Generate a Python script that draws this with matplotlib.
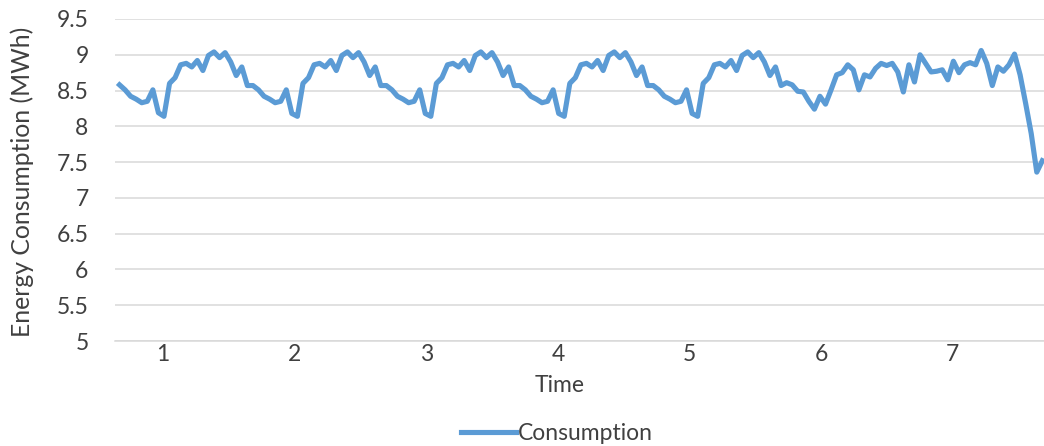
import matplotlib
matplotlib.use("Agg")
import matplotlib.pyplot as plt
import numpy as np

# hourly energy use over one week, one list per day (24 readings each)
day1 = [8.58, 8.51, 8.42, 8.38, 8.33, 8.35, 8.51, 8.19, 8.14, 8.60, 8.68, 8.86,
        8.88, 8.83, 8.92, 8.78, 8.99, 9.04, 8.96, 9.03, 8.90, 8.71, 8.83, 8.57]
day2 = [8.57, 8.51, 8.42, 8.38, 8.33, 8.35, 8.51, 8.18, 8.14, 8.60, 8.68, 8.86,
        8.88, 8.83, 8.92, 8.78, 8.99, 9.04, 8.96, 9.03, 8.90, 8.71, 8.83, 8.57]
day3 = [8.57, 8.51, 8.42, 8.38, 8.33, 8.35, 8.51, 8.18, 8.14, 8.60, 8.68, 8.86,
        8.88, 8.83, 8.92, 8.78, 8.99, 9.04, 8.96, 9.03, 8.90, 8.71, 8.83, 8.57]
day4 = [8.57, 8.51, 8.42, 8.38, 8.33, 8.35, 8.51, 8.18, 8.14, 8.60, 8.68, 8.86,
        8.88, 8.83, 8.92, 8.78, 8.99, 9.04, 8.96, 9.03, 8.90, 8.71, 8.83, 8.57]
day5 = [8.57, 8.51, 8.42, 8.38, 8.33, 8.35, 8.51, 8.18, 8.14, 8.60, 8.68, 8.86,
        8.88, 8.83, 8.92, 8.78, 8.99, 9.04, 8.96, 9.03, 8.90, 8.71, 8.83, 8.57]
day6 = [8.61, 8.58, 8.49, 8.48, 8.35, 8.24, 8.42, 8.31, 8.51, 8.72, 8.75, 8.86,
        8.79, 8.51, 8.72, 8.69, 8.81, 8.88, 8.85, 8.88, 8.76, 8.48, 8.86, 8.62]
day7 = [9.00, 8.88, 8.76, 8.77, 8.79, 8.65, 8.91, 8.75, 8.86, 8.89, 8.86, 9.06,
        8.88, 8.57, 8.83, 8.77, 8.86, 9.01, 8.72, 8.32, 7.90, 7.36, 7.52]

day_labels = ["1", "2", "3", "4", "5", "6", "7"]
# hour index where each day number sits on the time axis
label_pos = [7.8, 31.5, 55.2, 78.9, 102.6, 126.2, 149.9]

consumption = day1 + day2 + day3 + day4 + day5 + day6 + day7
hours = np.arange(len(consumption))

plt.rcParams['font.family'] = ['Lato', 'DejaVu Sans']
text_col = '#404040'
fs = 16.5

W, H = 1044, 446
fig = plt.figure(figsize=(W / 100, H / 100), dpi=100)
ax = fig.add_axes([115 / W, (H - 341) / H, (W - 115) / W, (341 - 19) / H])

ax.plot(hours, consumption, color='#5B9BD5', lw=3.7, solid_joinstyle='round',
        label='Consumption', zorder=3)

ax.set_ylim(5, 9.5)
ax.set_yticks(np.arange(5, 9.51, 0.5))
ax.set_yticklabels(['5', '5.5', '6', '6.5', '7', '7.5', '8', '8.5', '9', '9.5'])
ax.set_xlim(-0.81, 166.3)
ax.set_xticks(label_pos)
ax.set_xticklabels(day_labels)

ax.grid(axis='y', color='#D9D9D9', lw=1.1)
ax.set_axisbelow(True)
for s in ['left', 'right', 'top']:
    ax.spines[s].set_visible(False)
ax.spines['bottom'].set_color('#D9D9D9')
ax.spines['bottom'].set_linewidth(1.1)

ax.tick_params(axis='y', length=0, pad=19, labelsize=fs, labelcolor=text_col)
ax.tick_params(axis='x', length=0, pad=2, labelsize=fs, labelcolor=text_col)

fig.text(560 / W, 1 - 386 / H, 'Time', ha='center', va='center',
         fontsize=fs, color=text_col)
fig.text(22 / W, 1 - 182 / H, 'Energy Consumption (MWh)', ha='center',
         va='center', rotation=90, fontsize=17.8, color=text_col)

fig.legend(loc='center', bbox_to_anchor=(557 / W, 1 - 434 / H), frameon=False,
           fontsize=fs, handlelength=2.4, handletextpad=0.1,
           labelcolor=text_col)

fig.savefig('out.png', dpi=100)
